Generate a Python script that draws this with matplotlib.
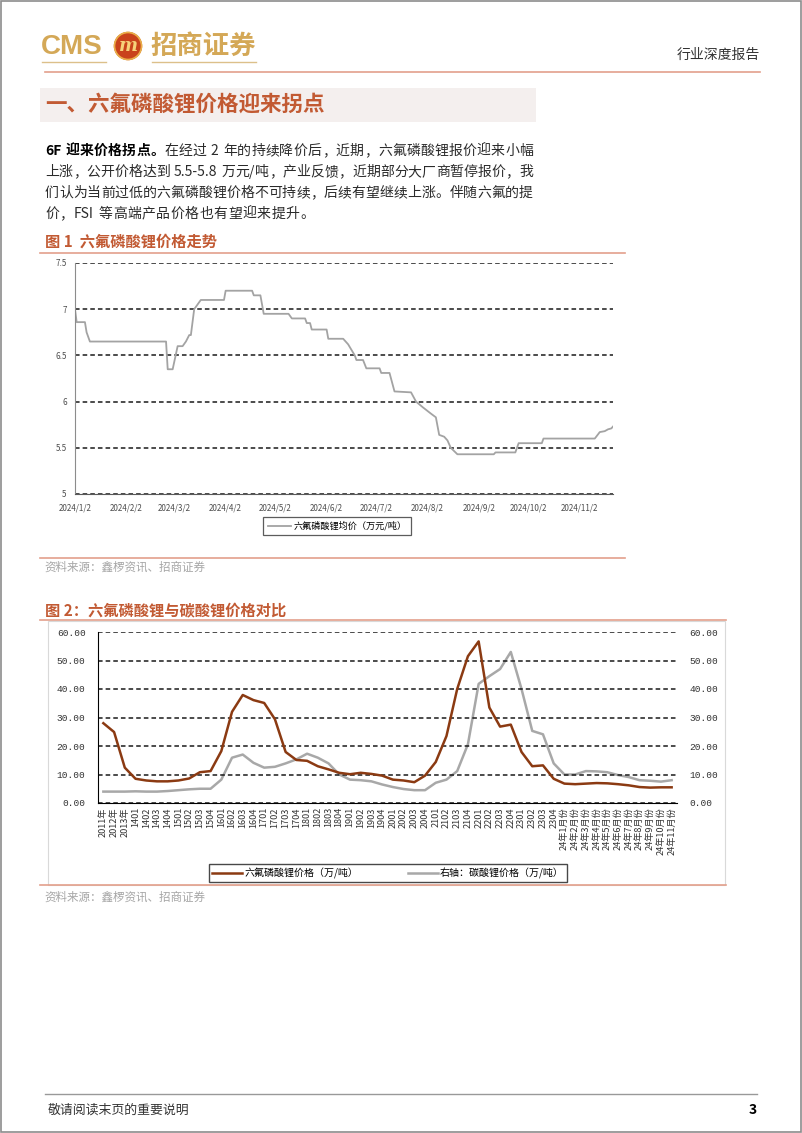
import matplotlib
matplotlib.use('Agg')
import matplotlib.pyplot as plt
import pandas as pd
from matplotlib.patches import Rectangle, Ellipse
from matplotlib.lines import Line2D
from matplotlib.ticker import FuncFormatter, FormatStrFormatter

W, H = 802, 1133
plt.rcParams['font.family'] = ['Noto Sans CJK SC', 'DejaVu Sans']

# ---------------- data ----------------
# 图1: 六氟磷酸锂均价 (万元/吨), 2024
lipf6_dates = ['2024-01-02', '2024-01-03', '2024-01-08', '2024-01-09', '2024-01-11', '2024-02-26',
               '2024-02-27', '2024-03-01', '2024-03-04', '2024-03-07', '2024-03-09', '2024-03-11',
               '2024-03-12', '2024-03-14', '2024-03-18', '2024-04-01', '2024-04-02', '2024-04-18',
               '2024-04-19', '2024-04-23', '2024-04-25', '2024-05-10', '2024-05-12', '2024-05-20',
               '2024-05-21', '2024-05-23', '2024-05-24', '2024-06-02', '2024-06-03', '2024-06-12',
               '2024-06-15', '2024-06-19', '2024-06-20', '2024-06-24', '2024-06-26', '2024-07-04',
               '2024-07-05', '2024-07-10', '2024-07-13', '2024-07-23', '2024-07-26', '2024-07-30',
               '2024-08-04', '2024-08-07', '2024-08-09', '2024-08-12', '2024-08-14', '2024-08-16',
               '2024-08-20', '2024-09-11', '2024-09-12', '2024-09-24', '2024-09-26', '2024-10-10',
               '2024-10-11', '2024-11-11', '2024-11-14', '2024-11-17', '2024-11-19', '2024-11-21',
               '2024-11-22']
lipf6_avg = [7.00, 6.86, 6.86, 6.75, 6.65, 6.65,
             6.35, 6.35, 6.60, 6.60, 6.65, 6.72,
             6.72, 7.00, 7.10, 7.10, 7.20, 7.20,
             7.15, 7.15, 6.95, 6.95, 6.90, 6.90,
             6.85, 6.85, 6.78, 6.78, 6.68, 6.68,
             6.62, 6.50, 6.45, 6.45, 6.36, 6.36,
             6.31, 6.31, 6.11, 6.10, 6.00, 5.94,
             5.87, 5.83, 5.64, 5.62, 5.58, 5.50,
             5.43, 5.43, 5.45, 5.45, 5.55, 5.55,
             5.60, 5.60, 5.67, 5.68, 5.70, 5.71,
             5.73]
month_ticks = ['2024-01-02', '2024-02-02', '2024-03-02', '2024-04-02', '2024-05-02', '2024-06-02',
               '2024-07-02', '2024-08-02', '2024-09-02', '2024-10-02', '2024-11-02']
month_labels = ['2024/1/2', '2024/2/2', '2024/3/2', '2024/4/2', '2024/5/2', '2024/6/2',
                '2024/7/2', '2024/8/2', '2024/9/2', '2024/10/2', '2024/11/2']

# 图2: 六氟磷酸锂 vs 碳酸锂 (万/吨)
period_labels = ['2011年', '2012年', '2013年',
                 '1401', '1402', '1403', '1404', '1501', '1502', '1503', '1504',
                 '1601', '1602', '1603', '1604', '1701', '1702', '1703', '1704',
                 '1801', '1802', '1803', '1804', '1901', '1902', '1903', '1904',
                 '2001', '2002', '2003', '2004', '2101', '2102', '2103', '2104',
                 '2201', '2202', '2203', '2204', '2301', '2302', '2303', '2304',
                 '24年1月份', '24年2月份', '24年3月份', '24年4月份', '24年5月份', '24年6月份',
                 '24年7月份', '24年8月份', '24年9月份', '24年10月份', '24年11月份']
lipf6_price = [28.0, 24.9, 12.4, 8.5, 7.9, 7.6, 7.6, 7.9, 8.6, 10.8,
               11.2, 18.2, 32.0, 37.9, 36.1, 35.1, 29.4, 17.9, 15.1, 14.8,
               12.9, 11.8, 10.6, 10.1, 10.6, 10.2, 9.6, 8.2, 7.9, 7.3,
               9.6, 14.4, 23.5, 40.0, 51.5, 56.7, 33.5, 26.8, 27.5, 17.9,
               12.9, 13.2, 8.5, 6.8, 6.6, 6.8, 7.0, 6.9, 6.6, 6.2,
               5.6, 5.4, 5.5, 5.5]
li2co3_price = [4.0, 4.0, 4.0, 4.1, 4.0, 4.0, 4.2, 4.5, 4.8, 5.0,
                5.0, 8.2, 15.9, 17.0, 14.1, 12.4, 12.7, 13.9, 15.3, 17.3,
                15.9, 13.9, 10.0, 8.2, 8.0, 7.6, 6.5, 5.6, 4.9, 4.5,
                4.5, 7.1, 8.2, 11.2, 20.6, 41.8, 44.5, 47.0, 53.0, 40.0,
                25.3, 24.1, 13.9, 10.0, 10.0, 11.2, 11.1, 10.8, 9.8, 9.1,
                8.0, 7.8, 7.5, 8.0]

ACCENT = '#c25a33'
GOLD = '#d4a857'
SALMON = '#e3a08c'

fig = plt.figure(figsize=(W / 100, H / 100), dpi=100)
renderer = fig.canvas.get_renderer()


def fx(x):
    return x / W


def fy(y):
    return 1 - y / H


def hline(y, x0, x1, color, lw=1.0):
    fig.add_artist(Line2D([fx(x0), fx(x1)], [fy(y), fy(y)], color=color, lw=lw))


# page frame
fig.add_artist(Rectangle((0.001, 0.001), 0.998, 0.998, fill=False, edgecolor='#8c8c8c', lw=1.2))

# ---------------- header ----------------
fig.text(fx(41), fy(47), 'CMS', fontsize=20, color=GOLD, va='center', ha='left',
         fontweight='bold', family=['Liberation Sans', 'DejaVu Sans'])
fig.add_artist(Ellipse((fx(128), fy(46)), 27 / W, 27 / H, color='#c9431c'))
fig.add_artist(Ellipse((fx(128), fy(46)), 27 / W, 27 / H, fill=False, edgecolor='#e9b04a', lw=1.2))
fig.text(fx(128), fy(46), 'm', fontsize=13, color='#f6d27a', fontweight='bold', style='italic',
         va='center', ha='center', family='DejaVu Serif')
fig.text(fx(150), fy(46), '招商证券', fontsize=19, color=GOLD, fontweight='bold', va='center', ha='left')
hline(62, 42, 106, '#dcc08a', 1.0)
hline(62, 152, 256, '#dcc08a', 1.0)
fig.text(fx(760), fy(55), '行业深度报告', fontsize=10, color='#333333', va='center', ha='right')
hline(72, 45, 760, SALMON, 1.2)

# section title
fig.add_artist(Rectangle((fx(40), fy(122)), 496 / W, 34 / H, facecolor='#f4efee', edgecolor='none'))
fig.text(fx(45), fy(104), '一、六氟磷酸锂价格迎来拐点', fontsize=15.5, color=ACCENT,
         fontweight='bold', va='center', ha='left')

# ---------------- paragraph (justified) ----------------
BODY_PT = 10
BODY_PX = BODY_PT * 100 / 72
TEXT_X0, TEXT_X1 = 45, 533


def para_line(y, segs, gap=None):
    items = []
    for s, weight, color in segs:
        buf = ''
        for ch in s + '\0':
            if ch.isascii() and ch not in ' \0':
                buf += ch
                continue
            if buf:
                items.append((buf, weight, color))
                buf = ''
            if ch == '\0':
                break
            items.append((ch, weight, color))
    arts, widths = [], []
    for tok, weight, color in items:
        if tok == ' ':
            arts.append(None)
            widths.append(BODY_PX * 0.28)
            continue
        t = fig.text(0, fy(y), tok, fontsize=BODY_PT, fontweight=weight, color=color,
                     va='center', ha='left')
        widths.append(t.get_window_extent(renderer).width if tok.isascii() else BODY_PX)
        arts.append(t)
    if gap is None:
        gap = (TEXT_X1 - TEXT_X0 - sum(widths)) / (len(items) - 1)
    x = TEXT_X0
    for t, w in zip(arts, widths):
        if t is not None:
            t.set_x(fx(x))
        x += w + gap


body = '#2b2b2b'
para_line(151, [('6F 迎来价格拐点。', 'bold', '#000000'),
                ('在经过 2 年的持续降价后，近期，六氟磷酸锂报价迎来小幅', 'normal', body)])
para_line(172, [('上涨，公开价格达到 5.5-5.8 万元/吨，产业反馈，近期部分大厂商暂停报价，我', 'normal', body)])
para_line(193, [('们认为当前过低的六氟磷酸锂价格不可持续，后续有望继续上涨。伴随六氟的提', 'normal', body)])
para_line(214, [('价，FSI 等高端产品价格也有望迎来提升。', 'normal', body)], gap=0.5)

# ---------------- figure 1 ----------------
fig.text(fx(45), fy(242), '图 1  六氟磷酸锂价格走势', fontsize=11, color=ACCENT, fontweight='bold',
         va='center', ha='left')
hline(253, 40, 625, SALMON, 1.2)
hline(558, 40, 625, SALMON, 1.2)
fig.text(fx(44), fy(567), '资料来源：鑫椤资讯、招商证券', fontsize=8.3, color='#a6a6a6', va='center', ha='left')

ax1 = fig.add_axes([fx(75), fy(494), 538 / W, 231 / H])
d1 = pd.to_datetime(lipf6_dates)
ax1.plot(d1, lipf6_avg, color='#a3a3a3', lw=1.3, label='六氟磷酸锂均价（万元/吨）')
ax1.set_xlim(d1[0], d1[-1])
ax1.set_ylim(5, 7.5)
ax1.set_yticks([5, 5.5, 6, 6.5, 7, 7.5])
ax1.yaxis.set_major_formatter(FuncFormatter(lambda v, p: f'{v:g}'))
ax1.set_xticks(pd.to_datetime(month_ticks))
ax1.set_xticklabels(month_labels)
ax1.tick_params(length=0, labelsize=5.8, labelcolor='#4d4d4d')
ax1.tick_params(axis='y', pad=6)
ax1.tick_params(axis='x', pad=7)
ax1.grid(axis='y', color='#1a1a1a', lw=1.1, linestyle=(0, (3, 2)))
ax1.set_axisbelow(True)
for s in ['top', 'right']:
    ax1.spines[s].set_visible(False)
ax1.spines['left'].set_color('#8c8c8c')
ax1.spines['bottom'].set_color('#595959')
leg1 = ax1.legend(loc='center', bbox_to_anchor=(fx(337), fy(526)), bbox_transform=fig.transFigure,
                  fontsize=6.6, frameon=True, fancybox=False, edgecolor='#333333',
                  handlelength=2.5, borderpad=0.45, handletextpad=0.3)
leg1.get_frame().set_linewidth(0.9)

# ---------------- figure 2 ----------------
fig.text(fx(45), fy(611), '图 2：六氟磷酸锂与碳酸锂价格对比', fontsize=11, color=ACCENT, fontweight='bold',
         va='center', ha='left')
fig.add_artist(Rectangle((fx(48), fy(885)), 677 / W, 264 / H, fill=False, edgecolor='#d9d9d9', lw=0.8))
hline(620, 40, 726, SALMON, 1.2)
hline(885, 40, 726, SALMON, 1.2)
fig.text(fx(44), fy(897), '资料来源：鑫椤资讯、招商证券', fontsize=8.3, color='#a6a6a6', va='center', ha='left')

ax2 = fig.add_axes([fx(98), fy(803), 579 / W, 171 / H])
xs = range(len(period_labels))
l1, = ax2.plot(xs, lipf6_price, color='#8b3a12', lw=1.8, label='六氟磷酸锂价格（万/吨）')
ax2r = ax2.twinx()
l2, = ax2r.plot(xs, li2co3_price, color='#a8a8a8', lw=1.8, label='右轴：碳酸锂价格（万/吨）')
for a in (ax2, ax2r):
    a.set_ylim(0, 60)
    a.set_yticks([0, 10, 20, 30, 40, 50, 60])
    a.yaxis.set_major_formatter(FormatStrFormatter('%.2f'))
    a.tick_params(length=0, labelsize=6.8, labelcolor='#333333', pad=9)
    for lab in a.get_yticklabels():
        lab.set_family('Liberation Mono')
    for s in ['top', 'right']:
        a.spines[s].set_visible(False)
ax2r.spines['left'].set_visible(False)
ax2r.spines['bottom'].set_visible(False)
ax2.set_xlim(-0.5, len(period_labels) - 0.5)
ax2.set_xticks(list(xs))
ax2.set_xticklabels(period_labels, rotation=90, fontsize=6.6, color='#333333')
ax2.tick_params(axis='x', length=0, pad=3)
ax2.grid(axis='y', color='#1a1a1a', lw=1.1, linestyle=(0, (3, 2)))
ax2.set_axisbelow(True)
ax2.spines['left'].set_color('#000000')
ax2.spines['bottom'].set_color('#000000')
ax2.set_zorder(ax2r.get_zorder() + 1)
ax2.patch.set_visible(False)
leg2 = ax2.legend([l1, l2], [l1.get_label(), l2.get_label()], loc='center',
                  bbox_to_anchor=(fx(388), fy(873)), bbox_transform=fig.transFigure, ncol=2,
                  fontsize=7.2, frameon=True, fancybox=False, edgecolor='#1a1a1a',
                  handlelength=3.0, columnspacing=5.0, borderpad=0.35, handletextpad=0.2,
                  borderaxespad=0)
leg2.get_frame().set_linewidth(1.0)

# ---------------- footer ----------------
hline(1094, 45, 757, '#999999', 1.0)
fig.text(fx(48), fy(1110), '敬请阅读末页的重要说明', fontsize=9.3, color='#333333', va='center', ha='left')
fig.text(fx(757), fy(1110), '3', fontsize=10, color='#000000', fontweight='bold', va='center', ha='right')

fig.savefig('out.png', dpi=100)
